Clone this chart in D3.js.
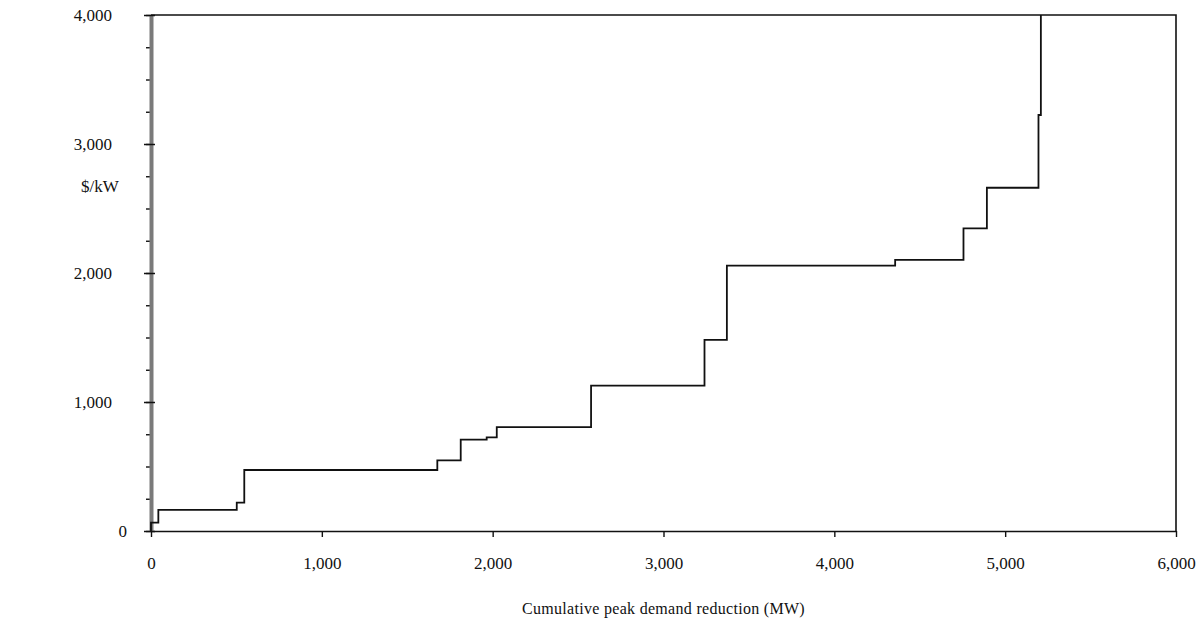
<!DOCTYPE html>
<html>
<head>
<meta charset="utf-8">
<script src="https://cdn.jsdelivr.net/npm/d3@7"></script>
<style>
  body { margin: 0; background: #fff; }
  text { font-family: "Liberation Serif", "DejaVu Serif", serif; fill: #111; }
</style>
</head>
<body>
<div id="chart"></div>
<script>
// step boundaries (MW) and the $/kW level that starts at each one
var stepMW   = [0, 0, 43, 502, 546, 1676, 1813, 1965, 2024, 2576, 3240, 3371, 4356, 4756, 4893, 5195, 5209];
var stepCost = [0, 65, 163, 220, 473, 548, 708, 726, 806, 1127, 1481, 2057, 2101, 2346, 2661, 3225, 4000];
var xTicks = [0, 1000, 2000, 3000, 4000, 5000, 6000];
var yTicks = [0, 1000, 2000, 3000, 4000];
var yMinor = d3.range(0, 4001, 250);

var width = 1200, height = 630;
var plotL = 151, plotR = 1176, plotT = 15, plotB = 531;

var svg = d3.select("#chart").append("svg")
    .attr("width", width)
    .attr("height", height);

var x = d3.scaleLinear().domain([0, 6000]).range([plotL, plotR]);
var y = d3.scaleLinear().domain([0, 4000]).range([plotB, plotT]);

var fmt = d3.format(",");

// frame top + right
svg.append("path")
    .attr("d", "M" + plotL + "," + plotT + "H" + plotR + "V" + plotB)
    .attr("fill", "none")
    .attr("stroke", "#111")
    .attr("stroke-width", 1.6);

// x axis
var xAxis = svg.append("g")
    .attr("transform", "translate(0," + plotB + ")")
    .call(d3.axisBottom(x).tickValues(xTicks).tickFormat(fmt).tickSizeInner(6).tickSizeOuter(0).tickPadding(20));
xAxis.select(".domain").attr("stroke", "#111").attr("stroke-width", 1.6);
xAxis.selectAll(".tick line").attr("stroke", "#111").attr("stroke-width", 1.4);
xAxis.selectAll("text").style("font-size", "17px").attr("fill", "#222");

// y minor ticks
svg.append("g")
    .attr("transform", "translate(" + plotL + ",0)")
    .call(d3.axisLeft(y).tickValues(yMinor).tickSize(5).tickFormat(""))
    .call(function(g) {
        g.select(".domain").remove();
        g.selectAll("line").attr("stroke", "#111").attr("stroke-width", 1.4);
    });

// y axis major
var yAxis = svg.append("g")
    .attr("transform", "translate(" + plotL + ",0)")
    .call(d3.axisLeft(y).tickValues(yTicks).tickFormat(fmt).tickSize(7).tickSizeOuter(0).tickPadding(32));
yAxis.selectAll(".tick line").attr("x2", 4).attr("x1", -7).attr("stroke", "#111").attr("stroke-width", 1.5);
yAxis.selectAll("text").style("font-size", "17px").attr("fill", "#222");
yAxis.selectAll(".tick text").filter(function(d) { return d === 0; }).attr("dx", 15);
yAxis.select(".domain").attr("stroke", "#7a7a7a").attr("stroke-width", 4);

// step line
var line = d3.line()
    .x(function(d, i) { return x(stepMW[i]); })
    .y(function(d) { return y(d); })
    .curve(d3.curveStepAfter);

svg.append("path")
    .datum(stepCost)
    .attr("d", line)
    .attr("fill", "none")
    .attr("stroke", "#111")
    .attr("stroke-width", 1.8);

// labels
svg.append("text")
    .attr("x", 100)
    .attr("y", 192)
    .attr("text-anchor", "middle")
    .style("font-size", "17px")
    .text("$/kW");

svg.append("text")
    .attr("x", (plotL + plotR) / 2)
    .attr("y", 614)
    .attr("text-anchor", "middle")
    .style("font-size", "16px")
    .style("letter-spacing", "0.3px")
    .text("Cumulative peak demand reduction (MW)");
</script>
</body>
</html>
